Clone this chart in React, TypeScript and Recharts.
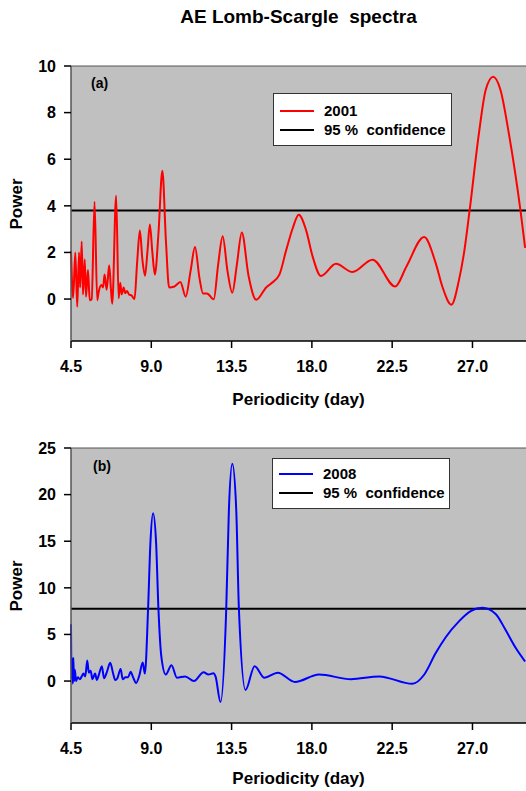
import { LineChart, Line, XAxis, YAxis, CartesianGrid, ReferenceLine } from 'recharts'

// periodicity (day) / power
const periodA = [
  4.5, 4.62, 4.74, 4.85, 4.95, 5.01, 5.1, 5.17, 5.27, 5.34, 5.45, 5.55, 5.66, 5.82, 5.97,
  6.05, 6.2, 6.3, 6.38, 6.5, 6.64, 6.74, 6.81, 7.03, 7.17, 7.26, 7.34, 7.45, 7.54, 7.63,
  7.75, 7.9, 8.06, 8.2, 8.36, 8.5, 8.65, 8.78, 8.92, 9.06, 9.2, 9.4, 9.62, 9.82, 10.0,
  10.3, 10.63, 10.93, 11.2, 11.45, 11.7, 11.9, 12.12, 12.5, 12.75, 13.0, 13.27, 13.54, 13.8, 14.07,
  14.45, 14.88, 15.44, 15.7, 16.18, 16.56, 16.93, 17.26, 17.67, 18.04, 18.51, 19.35, 20.28, 21.4, 22.67,
  23.3, 24.29, 24.94, 25.31, 25.82, 26.24, 26.55, 26.84, 27.36, 27.74, 28.16, 28.57, 29.04, 29.69, 29.95,
]
const powerA = [
  2.05, 0.05, 2.0, -0.33, 2.0, 0.5, 2.47, 0.2, 1.7, 0.1, 1.25, -0.05, 0.0, 4.18, -0.05,
  0.3, 0.6, 0.5, 1.05, 0.4, 1.45, 0.4, -0.2, 4.43, 0.03, 0.7, 0.2, 0.5, 0.25, 0.35,
  0.2, 0.15, 0.0, 1.5, 2.94, 1.7, 1.0, 2.0, 3.2, 2.0, 1.05, 2.8, 5.51, 2.5, 0.5,
  0.54, 0.73, 0.1, 1.2, 2.23, 0.9, 0.24, 0.24, -0.01, 1.5, 2.69, 1.2, 0.27, 1.5, 2.86,
  1.0, -0.03, 0.5, 0.66, 1.05, 2.1, 3.05, 3.62, 2.97, 1.83, 0.99, 1.51, 1.16, 1.69, 0.54,
  1.4, 2.66, 1.54, 0.54, -0.24, 0.8, 2.1, 3.8, 7.1, 8.97, 9.54, 8.97, 7.1, 3.8, 2.2,
]

// 2008 spectrum
const periodB = [
  4.5, 4.53, 4.56, 4.6, 4.63, 4.67, 4.72, 4.78, 4.88, 5.0, 5.1, 5.2, 5.3, 5.41, 5.5,
  5.6, 5.7, 5.85, 5.95, 6.05, 6.23, 6.35, 6.5, 6.7, 6.85, 6.98, 7.1, 7.28, 7.4, 7.55,
  7.7, 7.84, 7.98, 8.15, 8.33, 8.52, 8.64, 8.82, 8.95, 9.1, 9.27, 9.4, 9.57, 9.81, 10.13,
  10.44, 10.9, 11.39, 11.93, 12.2, 12.49, 12.6, 12.88, 13.2, 13.35, 13.54, 13.76, 13.91, 14.28, 14.79,
  15.34, 16.09, 17.05, 18.4, 20.19, 21.77, 23.63, 24.3, 24.94, 25.5, 26.24, 26.9, 27.55, 28.3, 28.85,
  29.41, 29.95,
]
const powerB = [
  6.1, 0.2, 2.5, -0.3, 2.5, 0.0, 1.2, 0.0, 0.4, 0.2, 0.5, 0.8, 0.5, 2.2, 0.9,
  1.1, 0.2, 0.8, 0.1, 0.6, 1.6, 0.3, 0.9, 1.97, 0.9, 0.1, 0.3, 1.3, 0.2, 0.4,
  0.4, 1.0, 0.4, -0.2, 0.6, 2.0, 0.8, 7.75, 14.8, 18.0, 14.8, 7.75, 2.5, 0.7, 1.7,
  0.36, 0.5, 0.0, 0.95, 0.7, 0.85, 0.5, -2.25, 7.75, 18.4, 23.3, 18.4, 7.75, -0.96, 1.6,
  0.36, 0.9, -0.1, 0.7, 0.2, 0.5, -0.3, 0.7, 3.0, 4.7, 6.4, 7.5, 7.86, 7.2, 5.5,
  3.6, 2.1,
]

const confA = 3.8
const confB = 7.75
const xTicks = [4.5, 9.0, 13.5, 18.0, 22.5, 27.0]
const yTicksA = [0, 2, 4, 6, 8, 10]
const yTicksB = [0, 5, 10, 15, 20, 25]

const font = '"Liberation Sans", Arial, sans-serif'
const tickStyle = { fill: '#000', fontSize: 16, fontWeight: 'bold', fontFamily: font }

type PanelProps = {
  periods: number[]
  powers: number[]
  color: string
  year: string
  conf: number
  yDomain: [number, number]
  yTicks: number[]
  top: number
  height: number
  labelOffset: number
}

const Panel = ({ periods, powers, color, year, conf, yDomain, yTicks, top, height, labelOffset }: PanelProps) => {
  const data = periods.map((p, i) => ({ period: p, power: powers[i] }))
  return (
    <div style={{ position: 'absolute', left: 0, top }}>
      <LineChart width={526} height={height} data={data} margin={{ top: 66, right: 0, left: 0, bottom: height - 66 - 275 - 64 }}>
        <CartesianGrid fill="#c0c0c0" fillOpacity={1} stroke="none" />
        <XAxis
          dataKey="period"
          type="number"
          domain={[4.5, 30]}
          ticks={xTicks}
          tickFormatter={(v: number) => v.toFixed(1)}
          tick={tickStyle}
          tickSize={7}
          tickMargin={13}
          height={64}
          axisLine={{ stroke: '#000', strokeWidth: 1.5 }}
          tickLine={{ stroke: '#000', strokeWidth: 1.5 }}
          label={{ value: 'Periodicity (day)', position: 'insideBottom', offset: labelOffset, fill: '#000', fontSize: 17, fontWeight: 'bold', fontFamily: font }}
        />
        <YAxis
          type="number"
          domain={yDomain}
          ticks={yTicks}
          tick={tickStyle}
          tickSize={7}
          tickMargin={8}
          width={71}
          axisLine={{ stroke: '#555', strokeWidth: 1.5 }}
          tickLine={{ stroke: '#000', strokeWidth: 1.5 }}
        />
        <ReferenceLine y={yDomain[1]} stroke="#555" strokeWidth={1} />
        <ReferenceLine y={conf} stroke="#000" strokeWidth={2} />
        <Line type="monotone" dataKey="power" name={year} stroke={color} strokeWidth={2} dot={false} isAnimationActive={false} />
      </LineChart>
    </div>
  )
}

const Legend = ({ left, top, width, height, color, year, row1, row2 }: { left: number; top: number; width: number; height: number; color: string; year: string; row1: number; row2: number }) => {
  const text = { position: 'absolute' as const, left: 50, fontSize: 15, fontWeight: 'bold' as const, fontFamily: font, lineHeight: '16px', whiteSpace: 'nowrap' as const }
  return (
    <div style={{ position: 'absolute', left, top, width, height, background: '#fff', border: '1px solid #333', boxSizing: 'border-box' }}>
      <div style={{ position: 'absolute', left: 6, top: row1 - 1, width: 34, height: 2, background: color }} />
      <div style={{ ...text, top: row1 - 8 }}>{year}</div>
      <div style={{ position: 'absolute', left: 6, top: row2 - 1, width: 34, height: 2, background: '#000' }} />
      <div style={{ ...text, top: row2 - 8 }}>95 %&nbsp; confidence</div>
    </div>
  )
}

const power = { position: 'absolute' as const, left: 17, fontSize: 17, fontWeight: 'bold' as const, fontFamily: font, transform: 'translate(-50%, -50%) rotate(-90deg)', whiteSpace: 'nowrap' as const }
const tag = { position: 'absolute' as const, fontSize: 14, fontWeight: 'bold' as const, fontFamily: font, lineHeight: '14px' }

export default function App() {
  return (
    <div style={{ position: 'absolute', left: 0, top: 0, width: 526, height: 791, overflow: 'hidden', background: '#fff' }}>
      <div style={{ position: 'absolute', left: 71, top: 7, width: 455, textAlign: 'center', fontSize: 19, lineHeight: '19px', fontWeight: 'bold', fontFamily: font, whiteSpace: 'pre' }}>
        AE Lomb-Scargle  spectra
      </div>
      <Panel periods={periodA} powers={powerA} color="#ff0000" year="2001" conf={confA} yDomain={[-1.8, 10]} yTicks={yTicksA} top={0} height={420} labelOffset={0} />
      <Panel periods={periodB} powers={powerB} color="#0000ff" year="2008" conf={confB} yDomain={[-4.5, 25]} yTicks={yTicksB} top={382} height={409} labelOffset={3} />
      <div style={{ ...power, top: 203.5 }}>Power</div>
      <div style={{ ...power, top: 585.5 }}>Power</div>
      <div style={{ ...tag, left: 91, top: 76 }}>(a)</div>
      <div style={{ ...tag, left: 93, top: 459 }}>(b)</div>
      <Legend left={273} top={93} width={179} height={53} color="#ff0000" year="2001" row1={17} row2={36} />
      <Legend left={272} top={458} width={178} height={51} color="#0000ff" year="2008" row1={15} row2={34} />
    </div>
  )
}
